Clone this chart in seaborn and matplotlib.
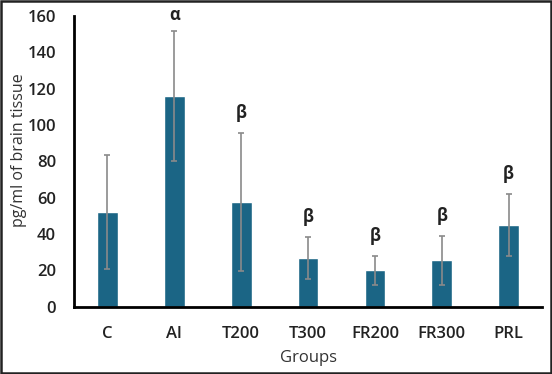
import matplotlib
matplotlib.use("Agg")
import matplotlib.pyplot as plt
import seaborn as sns
import pandas as pd
import numpy as np

groups = ["C", "Al", "T200", "T300", "FR200", "FR300", "PRL"]
means = [52, 116, 57.5, 27, 20, 25.5, 45]
errors = [31.5, 36, 38, 11.5, 8, 13.5, 17]
labels = ["", "α", "β", "β", "β", "β", "β"]
yticks = [0, 20, 40, 60, 80, 100, 120, 140, 160]

sns.set_style("white")
plt.rcParams['font.family'] = ['Open Sans', 'DejaVu Sans']

df = pd.DataFrame({"Groups": groups, "value": means})

fig = plt.figure(figsize=(5.52, 3.74), dpi=100)
ax = fig.add_axes([0.134, 0.180, 0.848, 0.777])

sns.barplot(data=df, x="Groups", y="value", color="#1b6585", width=0.31,
            saturation=1, ax=ax, errorbar=None)
ax.errorbar(np.arange(len(groups)), means, yerr=errors, fmt="none",
            ecolor="#8a8a8a", elinewidth=1.2, capsize=2.5, capthick=1.2)

for i, (m, e, lab) in enumerate(zip(means, errors, labels)):
    if lab:
        off = 8.5 if lab == "α" else 11
        ax.text(i, m + e + off, lab, ha="center", va="center", fontsize=12,
                fontweight="bold", color="#222222", clip_on=False)

ax.set_ylim(0, 160)
ax.set_xlim(-0.5, len(groups) - 0.5)
ax.set_yticks(yticks)
ax.tick_params(axis="y", labelsize=12, colors="#222222", length=0, pad=13)
ax.tick_params(axis="x", labelsize=12, colors="#222222", length=0, pad=14)
for t in ax.get_xticklabels() + ax.get_yticklabels():
    t.set_fontweight("semibold")
ax.set_xlabel("Groups", fontsize=12, color="#333333", labelpad=6)
ax.set_ylabel("pg/ml of brain tissue", fontsize=11.5, color="#333333")
ax.yaxis.set_label_coords(-0.10, 0.54)

sns.despine(ax=ax)
for s in ["left", "bottom"]:
    ax.spines[s].set_color("black")
    ax.spines[s].set_linewidth(2)

fig.patches.append(plt.Rectangle((0.002, 0.003), 0.996, 0.994, transform=fig.transFigure,
                                 fill=False, edgecolor="#222222", linewidth=1.8))

fig.savefig("out.png", dpi=100)
